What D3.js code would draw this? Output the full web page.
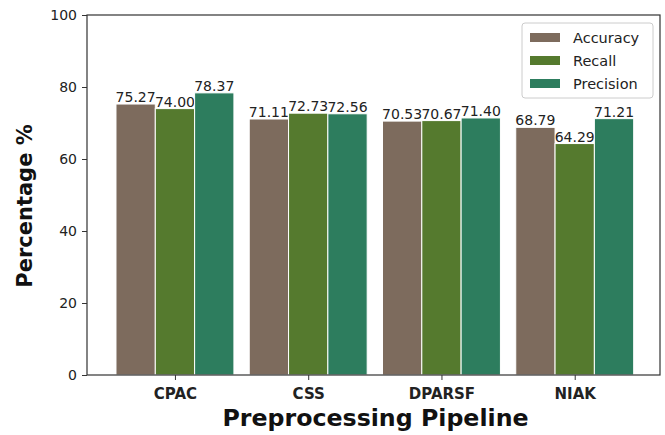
<!DOCTYPE html>
<html>
<head>
<meta charset="utf-8">
<script src="https://cdn.jsdelivr.net/npm/d3@7/dist/d3.min.js"></script>
<style>
  body { margin: 0; background: #fff; }
  svg text { font-family: "DejaVu Sans", sans-serif; }
</style>
</head>
<body>
<svg id="chart" width="665" height="435"></svg>
<script>
// Pipelines on the x axis
const pipelines = ["CPAC", "CSS", "DPARSF", "NIAK"];
// Metric series (percent)
const metrics = ["Accuracy", "Recall", "Precision"];
const accuracy = [75.27, 71.11, 70.53, 68.79];
const recall = [74.00, 72.73, 70.67, 64.29];
const precision = [78.37, 72.56, 71.40, 71.21];
const yTicks = [0, 20, 40, 60, 80, 100];

const seriesValues = [accuracy, recall, precision];
const colors = ["#7d6b5d", "#557a2e", "#2d7d5e"];

const svg = d3.select("#chart");
const plotLeft = 87, plotRight = 660, plotTop = 15, plotBottom = 375;

const barW = 0.295;
const x = d3.scaleLinear().domain([-0.66, 3.64]).range([plotLeft, plotRight]);
const y = d3.scaleLinear().domain([0, 100]).range([plotBottom, plotTop]);

// Bars with value labels
metrics.forEach((m, si) => {
  const g = svg.append("g");
  g.selectAll("rect").data(seriesValues[si]).enter().append("rect")
    .attr("x", (d, i) => x(i + (si - 1) * barW - barW / 2))
    .attr("width", x(barW) - x(0))
    .attr("y", d => y(d))
    .attr("height", d => y(0) - y(d))
    .attr("fill", colors[si])
    .attr("stroke", "#ffffff")
    .attr("stroke-width", 1);
  g.selectAll("text").data(seriesValues[si]).enter().append("text")
    .attr("x", (d, i) => x(i + (si - 1) * barW))
    .attr("y", d => y(d) - 2)
    .attr("text-anchor", "middle")
    .attr("font-size", 14)
    .attr("fill", "#222")
    .text(d => d.toFixed(2));
});

// Frame
svg.append("rect")
  .attr("x", plotLeft).attr("y", plotTop)
  .attr("width", plotRight - plotLeft).attr("height", plotBottom - plotTop)
  .attr("fill", "none").attr("stroke", "#333").attr("stroke-width", 1.2);

// Y axis
const yAxis = svg.append("g")
  .attr("transform", `translate(${plotLeft},0)`)
  .call(d3.axisLeft(y).tickValues(yTicks).tickSize(5).tickPadding(5));
yAxis.select(".domain").remove();
yAxis.selectAll("line").attr("stroke", "#333");
yAxis.selectAll("text").attr("font-size", 14).attr("fill", "#222")
  .attr("font-family", "DejaVu Sans, sans-serif");

// X axis
const xAxis = svg.append("g")
  .attr("transform", `translate(0,${plotBottom})`)
  .call(d3.axisBottom(x).tickValues(d3.range(pipelines.length))
    .tickFormat(i => pipelines[i]).tickSize(5).tickPadding(8));
xAxis.select(".domain").remove();
xAxis.selectAll("line").attr("stroke", "#333");
xAxis.selectAll("text").attr("font-size", 15).attr("font-weight", "bold")
  .attr("fill", "#222").attr("font-family", "DejaVu Sans, sans-serif");

// Axis titles
svg.append("text")
  .attr("x", (plotLeft + plotRight) / 2 + 2).attr("y", 426)
  .attr("text-anchor", "middle")
  .attr("font-size", 23.7).attr("font-weight", "bold").attr("fill", "#111")
  .text("Preprocessing Pipeline");
svg.append("text")
  .attr("transform", `translate(32,206) rotate(-90)`)
  .attr("text-anchor", "middle")
  .attr("font-size", 21).attr("font-weight", "bold").attr("fill", "#111")
  .text("Percentage %");

// Legend
const lg = svg.append("g").attr("transform", "translate(522,23)");
lg.append("rect").attr("width", 131).attr("height", 75).attr("rx", 3)
  .attr("fill", "#fff").attr("fill-opacity", 0.8)
  .attr("stroke", "#ccc").attr("stroke-width", 1);
metrics.forEach((m, i) => {
  lg.append("rect").attr("x", 8).attr("y", 10 + i * 23)
    .attr("width", 30).attr("height", 9).attr("fill", colors[i]);
  lg.append("text").attr("x", 51).attr("y", 20 + i * 23)
    .attr("font-size", 14.5).attr("fill", "#222").text(m);
});
</script>
</body>
</html>
